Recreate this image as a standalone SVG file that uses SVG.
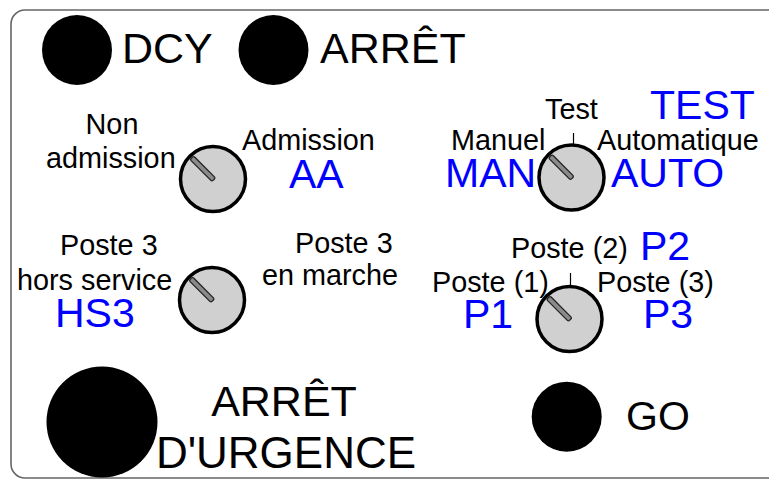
<svg xmlns="http://www.w3.org/2000/svg" width="769" height="480" viewBox="0 0 769 480">
<style>
text { font-family: "Liberation Sans", Arial, sans-serif; fill: #000; }
.lbl { font-size: 28.8px; }
.big { font-size: 43px; }
.code { font-size: 41px; fill: #0000ff; }
.btn { fill: #000; }
.tick { stroke: #000; stroke-width: 1.2; }
</style>
<defs>
  <g id="knob">
    <circle cx="0" cy="0" r="32.5" fill="#d0d0d0" stroke="#000" stroke-width="3.5"/>
    <rect x="-30" y="-2.5" width="31" height="5" rx="1.5" transform="rotate(45)" fill="#8a8a8a" stroke="#222" stroke-width="1.3"/>
  </g>
</defs>
<rect id="frame" x="11" y="10" width="790" height="468" rx="14" ry="14" fill="#fff" stroke="#666" stroke-width="1.6"/>

<g id="dcy">
  <circle class="btn" cx="77" cy="50" r="35"/>
  <text class="big" x="122" y="63">DCY</text>
</g>
<g id="arret">
  <circle class="btn" cx="273.5" cy="50" r="35"/>
  <text class="big" x="320" y="63">ARRÊT</text>
</g>

<g id="knob-aa">
  <use href="#knob" transform="translate(213,179)"/>
  <text class="lbl" x="112" y="134" text-anchor="middle">Non</text>
  <text class="lbl" x="46" y="168">admission</text>
  <text class="lbl" x="242" y="150">Admission</text>
  <text class="code" x="289" y="188">AA</text>
</g>

<g id="knob-mode">
  <use href="#knob" transform="translate(571.5,177.5)"/>
  <line class="tick" x1="573.5" y1="133" x2="573.5" y2="144"/>
  <text class="lbl" x="545" y="119">Test</text>
  <text class="code" x="650" y="119">TEST</text>
  <text class="lbl" x="451" y="150">Manuel</text>
  <text class="lbl" x="597" y="150">Automatique</text>
  <text class="code" x="445" y="187">MAN</text>
  <text class="code" x="611" y="187">AUTO</text>
</g>

<g id="knob-hs3">
  <use href="#knob" transform="translate(212,300)"/>
  <text class="lbl" x="60" y="255">Poste 3</text>
  <text class="lbl" x="17" y="290">hors service</text>
  <text class="code" x="55" y="327">HS3</text>
  <text class="lbl" x="295" y="253">Poste 3</text>
  <text class="lbl" x="262" y="285">en marche</text>
</g>

<g id="knob-poste">
  <use href="#knob" transform="translate(569.5,319)"/>
  <line class="tick" x1="570.5" y1="273" x2="570.5" y2="285"/>
  <text class="lbl" x="511" y="258">Poste (2)</text>
  <text class="code" x="640" y="260">P2</text>
  <text class="lbl" x="432" y="292">Poste (1)</text>
  <text class="lbl" x="597" y="292">Poste (3)</text>
  <text class="code" x="463" y="328">P1</text>
  <text class="code" x="643" y="328">P3</text>
</g>

<g id="urgence">
  <ellipse class="btn" cx="102" cy="422" rx="55.5" ry="55.5"/>
  <text class="big" x="284" y="416" text-anchor="middle">ARRÊT</text>
  <text class="big" x="286" y="468" text-anchor="middle" style="font-size:44px">D'URGENCE</text>
</g>

<g id="go">
  <circle class="btn" cx="566.7" cy="416.7" r="35"/>
  <text class="code" x="626" y="430" style="fill:#000">GO</text>
</g>

<g id="connectors"></g>
</svg>
